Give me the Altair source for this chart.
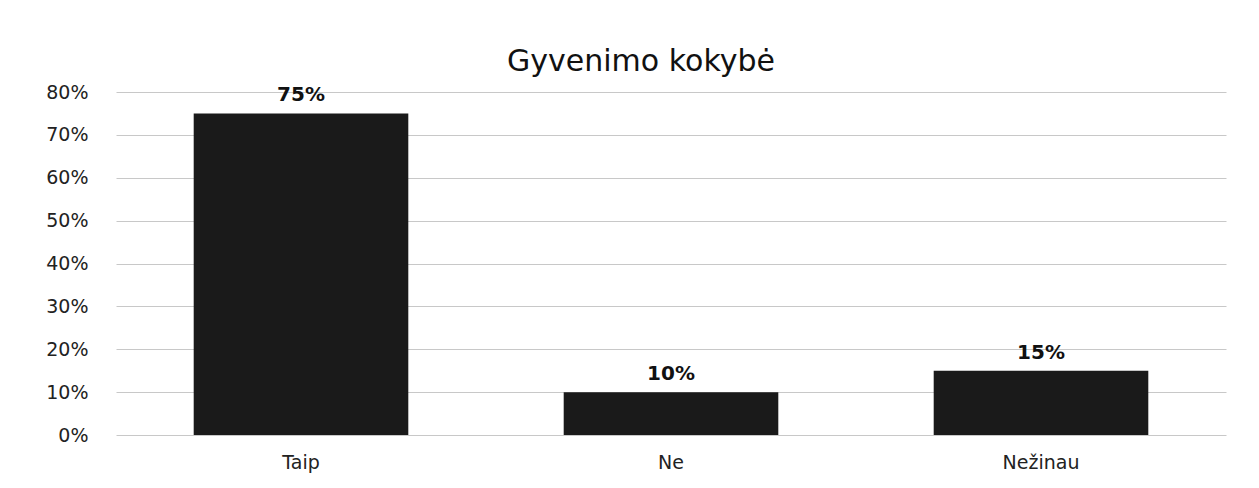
import altair as alt
import pandas as pd

categories = ["Taip", "Ne", "Nežinau"]
values = [0.75, 0.10, 0.15]
labels = ["75%", "10%", "15%"]

df = pd.DataFrame({"cat": categories, "val": values, "lab": labels})

x = alt.X("cat:N", sort=categories, title=None,
          scale=alt.Scale(paddingInner=0.42, paddingOuter=0.21),
          axis=alt.Axis(labelAngle=0, labelFontSize=19, labelFont="DejaVu Sans",
                        labelColor="#222", labelPadding=18, ticks=False, domain=False))
y = alt.Y("val:Q", title=None,
          scale=alt.Scale(domain=[0, 0.8]),
          axis=alt.Axis(format=".0%", values=[i / 10 for i in range(9)],
                        labelFontSize=19, labelFont="DejaVu Sans", labelColor="#222",
                        labelPadding=28, ticks=False, domain=False,
                        gridColor="#c8c8c8", gridWidth=1))

bars = alt.Chart(df).mark_bar(color="#1a1a1a").encode(x=x, y=y)
text = alt.Chart(df).mark_text(dy=-18, fontSize=20, fontWeight="bold",
                               font="DejaVu Sans", color="#111").encode(
    x=alt.X("cat:N", sort=categories), y="val:Q", text="lab:N")

chart = (bars + text).properties(
    width=1110, height=343,
    title=alt.TitleParams("Gyvenimo kokybė", fontSize=30, font="DejaVu Sans",
                          fontWeight=500, color="#111", offset=6, dx=-30),
    autosize=alt.AutoSizeParams(type="none"),
    padding={"left": 108, "top": 84, "right": 20, "bottom": 40},
).configure(background="white").configure_view(strokeWidth=0, stroke="transparent")

chart.save("out.html", embed_options={"renderer": "svg", "actions": False})
